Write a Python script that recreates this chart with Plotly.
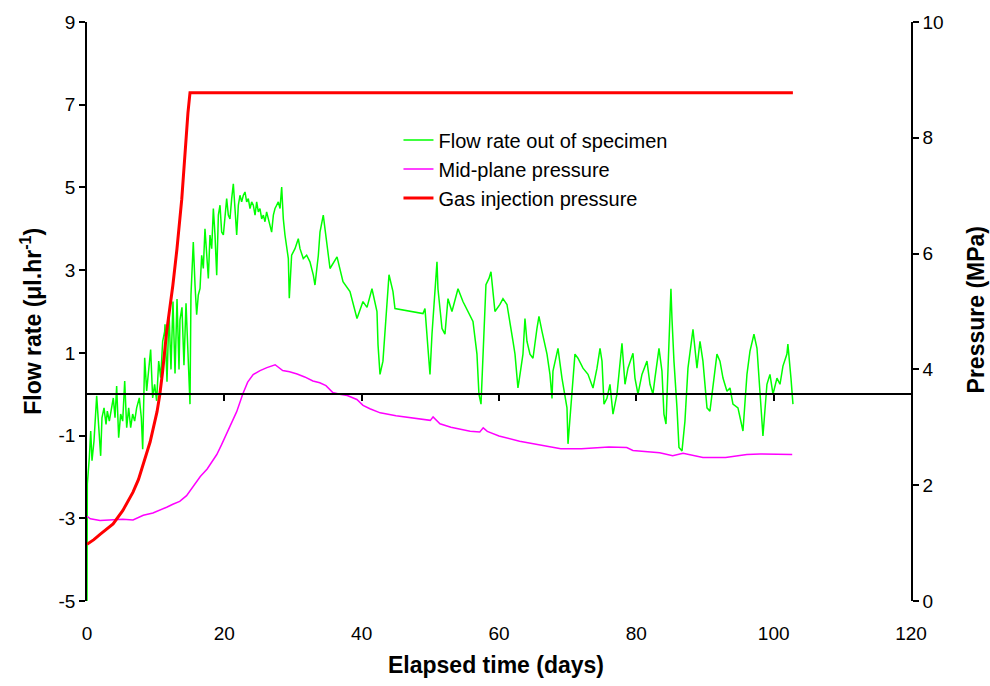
import plotly.graph_objects as go

# Flow rate out of specimen (μl/hr) against elapsed time (days)
flow_days = [
    0.0, 0.05, 0.34, 0.54, 0.73, 1.02, 1.41, 1.70, 1.99, 2.18, 2.48, 2.77, 2.96, 3.25,
    3.54, 3.83, 4.08, 4.32, 4.61, 4.90, 5.20, 5.49, 5.78, 6.07, 6.36, 6.65, 6.94, 7.23,
    7.62, 7.91, 8.11, 8.40, 8.69, 8.98, 9.27, 9.56, 9.85, 10.14, 10.44, 10.73, 11.02,
    11.31, 11.36, 11.65, 11.94, 12.23, 12.52, 12.82, 13.11, 13.4, 13.54, 13.83, 14.12,
    14.42, 14.71, 15.0, 15.14, 15.24, 15.48, 15.73, 15.97, 16.21, 16.46, 16.70, 16.94,
    17.18, 17.43, 17.67, 17.91, 18.16, 18.40, 18.64, 18.89, 19.13, 19.37, 19.61, 19.86,
    20.10, 20.34, 20.58, 20.82, 21.07, 21.31, 21.55, 21.80, 22.04, 22.28, 22.52, 22.77,
    23.01, 23.25, 23.49, 23.74, 23.98, 24.22, 24.47, 24.71, 24.95, 25.19, 25.44, 25.68,
    25.92, 26.16, 26.41, 26.65, 26.89, 27.14, 27.38, 27.62, 27.86, 28.11, 28.35, 28.59,
    28.83, 29.32, 29.46, 29.80, 30.29, 30.77, 31.02, 31.50, 31.99, 32.47, 32.96, 33.20,
    33.69, 33.93, 34.41, 34.66, 35.14,
    35.39, 36.41, 37.28, 38.3, 39.32, 40.19, 40.78, 41.5, 42.23, 42.38, 42.67,
    43.1, 43.4, 43.69, 43.98, 44.56, 44.85, 48.93, 49.22, 49.66, 49.95, 50.24, 50.68,
    50.97, 51.11, 51.7, 52.13, 52.57, 53.15, 54.03, 54.75, 55.48, 56.21, 56.79, 57.08,
    57.38, 57.67, 58.1, 58.54, 58.83, 59.12, 59.41, 60.14, 60.58, 61.16, 61.6, 62.04,
    62.33, 62.76, 63.06, 63.49, 63.78, 64.07, 64.51, 64.95, 65.53, 65.82, 66.26, 66.99,
    67.42, 67.72, 67.86, 68.59, 69.17, 69.9, 70.05, 70.63, 71.06, 71.5, 72.23, 72.96,
    73.69, 74.27, 74.71, 75.0, 75.29, 75.72, 76.16, 76.6, 77.18, 77.91, 78.35, 78.78,
    79.51, 79.8, 80.24, 80.82, 81.55, 81.99, 82.42, 82.71, 83.3, 83.73, 84.02, 84.32,
    84.61, 84.75, 85.04, 85.19, 85.48, 85.92, 86.21, 86.65, 87.08, 87.52, 88.1, 88.25,
    88.83, 89.27, 89.7, 90.29, 90.72, 91.16, 91.74, 92.18, 92.62, 93.2, 93.64, 94.07,
    94.8, 95.53, 96.11, 96.55, 97.13, 97.57, 98.0, 98.44, 99.02, 99.46, 99.9, 100.48,
    100.92, 101.35, 101.93, 102.07, 102.52, 102.81,
]
flow_rate = [
    -5.0, -2.17, -1.53, -0.89, -1.61, -1.13, -0.04, -0.81, -1.49, -0.57, -0.33, -0.73, -0.41, -0.65,
    -0.33, -0.09, -0.57, 0.20, -1.05, -0.48, -0.65, 0.32, -0.81, -0.33, -0.81, -0.48, -0.65, -0.33,
    -0.09, -0.57, -1.33, 0.88, 0.08, 0.56, 1.08, -0.09, 0.24, -0.16, 0.80, 0.40, 1.28,
    1.52, 1.69, 0.3, 2.0, 0.6, 2.24, 0.5, 2.3, 0.6, 1.8, 2.1, 0.7,
    2.2, 1.0, -0.24, 2.4, 2.80, 3.68, 2.64, 1.92, 2.40, 2.56, 3.36, 3.04,
    4.00, 3.36, 2.80, 3.85, 3.52, 4.49, 3.85, 2.88, 4.33, 4.57, 3.92, 3.85,
    4.33, 4.73, 4.33, 4.24, 4.73, 5.09, 4.49, 3.85, 4.57, 4.81, 4.65, 4.81,
    4.89, 4.65, 4.73, 4.49, 4.65, 4.57, 4.33, 4.65, 4.41, 4.49, 4.24, 4.33,
    4.17, 4.41, 4.24, 4.09, 3.92, 4.33, 4.49, 4.57, 4.65, 4.49, 5.01, 4.24,
    3.85, 3.28, 2.32, 3.36, 3.52, 3.76, 3.52, 3.28, 3.36, 3.20, 2.88, 2.64,
    3.36, 3.92, 4.33, 4.00, 3.36,
    3.04, 3.32, 2.72, 2.48, 1.83, 2.24, 2.1, 2.55, 2.0, 1.2, 0.48,
    0.8, 1.45, 2.07, 2.89, 2.48, 2.07, 1.95, 2.07, 1.1, 0.48, 1.45, 2.48,
    3.2, 2.55, 1.59, 1.45, 2.31, 2.0, 2.55, 2.24, 2.0, 1.76, 0.97, 0.0,
    -0.24, 0.8, 2.65, 2.8, 2.96, 2.48, 2.0, 2.17, 2.31, 2.17, 1.76, 1.28,
    0.97, 0.15, 0.48, 0.97, 1.83, 1.28, 0.97, 0.87, 1.59, 1.88, 1.52, 0.97,
    0.48, -0.1, 0.56, 1.11, 0.39, -0.33, -1.2, 0.15, 0.97, 0.87, 0.63, 0.48,
    0.15, 0.63, 1.11, 0.8, -0.24, -0.1, 0.24, -0.48, 0.0, 1.23, 0.24, 0.63,
    0.99, 0.39, 0.0, 0.48, 0.8, 0.24, 0.0, 0.39, 1.11, 0.56, -0.48, -0.72,
    0.8, 1.59, 2.55, 1.83, 0.8, -0.33, -1.29, -1.37, -0.65, 0.63, 1.35, 1.57,
    0.63, 1.28, 0.8, -0.33, -0.41, 0.24, 0.97, 0.8, 0.39, 0.07, 0.15, -0.24,
    -0.33, -0.89, 0.48, 1.04, 1.45, 1.11, 0.0, -1.01, 0.24, 0.48, 0.0, 0.39,
    0.24, 0.68, 0.97, 1.21, 0.39, -0.24,
]

# Mid-plane pressure (MPa)
mid_days = [
    0.0, 0.5, 1.9, 3.5, 5.2, 6.7, 8.2, 9.6, 10.3, 11.6, 12.5, 13.5, 14.5, 15.4, 16.5,
    17.5, 18.4, 18.9, 19.6, 20.4, 21.1, 21.8, 22.7, 23.4, 24.2, 25.2, 26.2, 27.4, 28.5,
    29.5, 30.6, 31.7, 32.9, 33.9, 34.8, 35.8, 36.8, 37.9, 39.3, 40.2, 41.2, 42.7, 45.0,
    48.0, 50.0, 50.4, 51.4, 53.0, 55.8, 57.2, 57.7, 58.3, 60.0, 63.0, 66.0, 69.0, 72.0,
    74.7, 76.0, 78.6, 79.5, 83.4, 85.3, 86.8, 88.8, 89.7, 93.0, 96.1, 98.0, 102.7,
]
mid_pressure = [
    1.46, 1.42, 1.39, 1.40, 1.41, 1.40, 1.48, 1.52, 1.56, 1.62, 1.67, 1.72, 1.82, 1.97, 2.15,
    2.28, 2.45, 2.53, 2.70, 2.90, 3.08, 3.27, 3.58, 3.78, 3.91, 3.98, 4.03, 4.08, 3.98,
    3.96, 3.92, 3.87, 3.80, 3.77, 3.72, 3.60, 3.57, 3.55, 3.48, 3.38, 3.32, 3.25, 3.20,
    3.15, 3.12, 3.18, 3.06, 3.00, 2.93, 2.92, 2.99, 2.93, 2.85, 2.76, 2.70, 2.63, 2.63,
    2.65, 2.66, 2.65, 2.60, 2.56, 2.51, 2.55, 2.51, 2.48, 2.48, 2.53, 2.54, 2.53,
]

# Gas injection pressure (MPa)
gas_days = [
    0.0, 1.0, 1.9, 3.0, 3.8, 5.2, 6.0, 6.7, 7.5, 8.2, 9.2, 10.2, 10.6, 11.0,
    11.6, 12.5, 13.1, 13.8, 14.3, 14.7, 15.0, 102.8,
]
gas_pressure = [
    0.98, 1.06, 1.15, 1.25, 1.33, 1.56, 1.72, 1.88, 2.1, 2.36, 2.75, 3.27, 3.56, 3.95,
    4.65, 5.45, 6.08, 6.94, 7.87, 8.43, 8.78, 8.78,
]

x_ticks = [0, 20, 40, 60, 80, 100, 120]
flow_ticks = [-5, -3, -1, 1, 3, 5, 7, 9]
pressure_ticks = [0, 2, 4, 6, 8, 10]

FONT = "Liberation Sans, Arial, sans-serif"

fig = go.Figure()
fig.add_trace(go.Scatter(
    x=flow_days, y=flow_rate, mode="lines", name="Flow rate out of specimen",
    line=dict(color="#00FF00", width=1.5), xaxis="x", yaxis="y",
))
fig.add_trace(go.Scatter(
    x=mid_days, y=mid_pressure, mode="lines", name="Mid-plane pressure",
    line=dict(color="#FF00FF", width=1.5), xaxis="x", yaxis="y2",
))
fig.add_trace(go.Scatter(
    x=gas_days, y=gas_pressure, mode="lines", name="Gas injection pressure",
    line=dict(color="#FF0000", width=3), xaxis="x", yaxis="y2",
))
# carrier trace for the zero-flow crossing axis
fig.add_trace(go.Scatter(
    x=[x_ticks[0], x_ticks[-1]], y=[0, 0], mode="lines", line=dict(width=0),
    showlegend=False, hoverinfo="skip", xaxis="x2", yaxis="y",
))

axis_common = dict(
    showgrid=False, zeroline=False, linecolor="black", linewidth=1.5,
    tickcolor="black", tickwidth=1.5, tickfont=dict(family=FONT, size=19, color="black"),
)

fig.update_layout(
    width=990, height=686,
    margin=dict(l=87, r=79, t=19, b=85),
    paper_bgcolor="white", plot_bgcolor="white",
    font=dict(family=FONT, color="black"),
    xaxis=dict(
        range=[0, 120], tickvals=x_ticks, ticktext=[str(v) for v in x_ticks],
        showline=False, ticks="outside", ticklen=15, tickcolor="rgba(0,0,0,0)",
        showgrid=False, zeroline=False,
        tickfont=dict(family=FONT, size=19, color="black"),
    ),
    xaxis2=dict(
        range=[0, 120], overlaying="x", anchor="free", position=5 / 14,
        tickvals=x_ticks[1:-1], showticklabels=False, showline=True,
        ticks="outside", ticklen=6, showgrid=False, zeroline=False,
        linecolor="black", linewidth=1.5, tickcolor="black", tickwidth=1.5,
    ),
    yaxis=dict(
        range=[-5, 9], tickvals=flow_ticks, ticktext=[str(v) for v in flow_ticks],
        showline=True, ticks="outside", ticklen=6, **axis_common,
    ),
    yaxis2=dict(
        range=[0, 10], tickvals=pressure_ticks, ticktext=[str(v) for v in pressure_ticks],
        overlaying="y", side="right", anchor="x",
        showline=True, ticks="outside", ticklen=6, **axis_common,
    ),
    legend=dict(
        x=0.378, y=0.83, xanchor="left", yanchor="top",
        bgcolor="rgba(0,0,0,0)", borderwidth=0,
        font=dict(family=FONT, size=20, color="black"),
        tracegroupgap=0,
    ),
    showlegend=True,
)

fig.add_annotation(
    text="<b>Elapsed time (days)</b>", xref="paper", yref="paper",
    x=0.4964, y=-0.11, xanchor="center", yanchor="middle", showarrow=False,
    font=dict(family=FONT, size=23, color="black"),
)
fig.add_annotation(
    text="<b>Flow rate (μl.hr<sup>-1</sup>)</b>", xref="paper", yref="paper",
    x=-0.0675, y=0.483, xanchor="center", yanchor="middle", showarrow=False,
    textangle=-90, font=dict(family=FONT, size=23, color="black"),
)
fig.add_annotation(
    text="<b>Pressure (MPa)</b>", xref="paper", yref="paper",
    x=1.079, y=0.502, xanchor="center", yanchor="middle", showarrow=False,
    textangle=-90, font=dict(family=FONT, size=23, color="black"),
)

fig.write_html("out.html")
